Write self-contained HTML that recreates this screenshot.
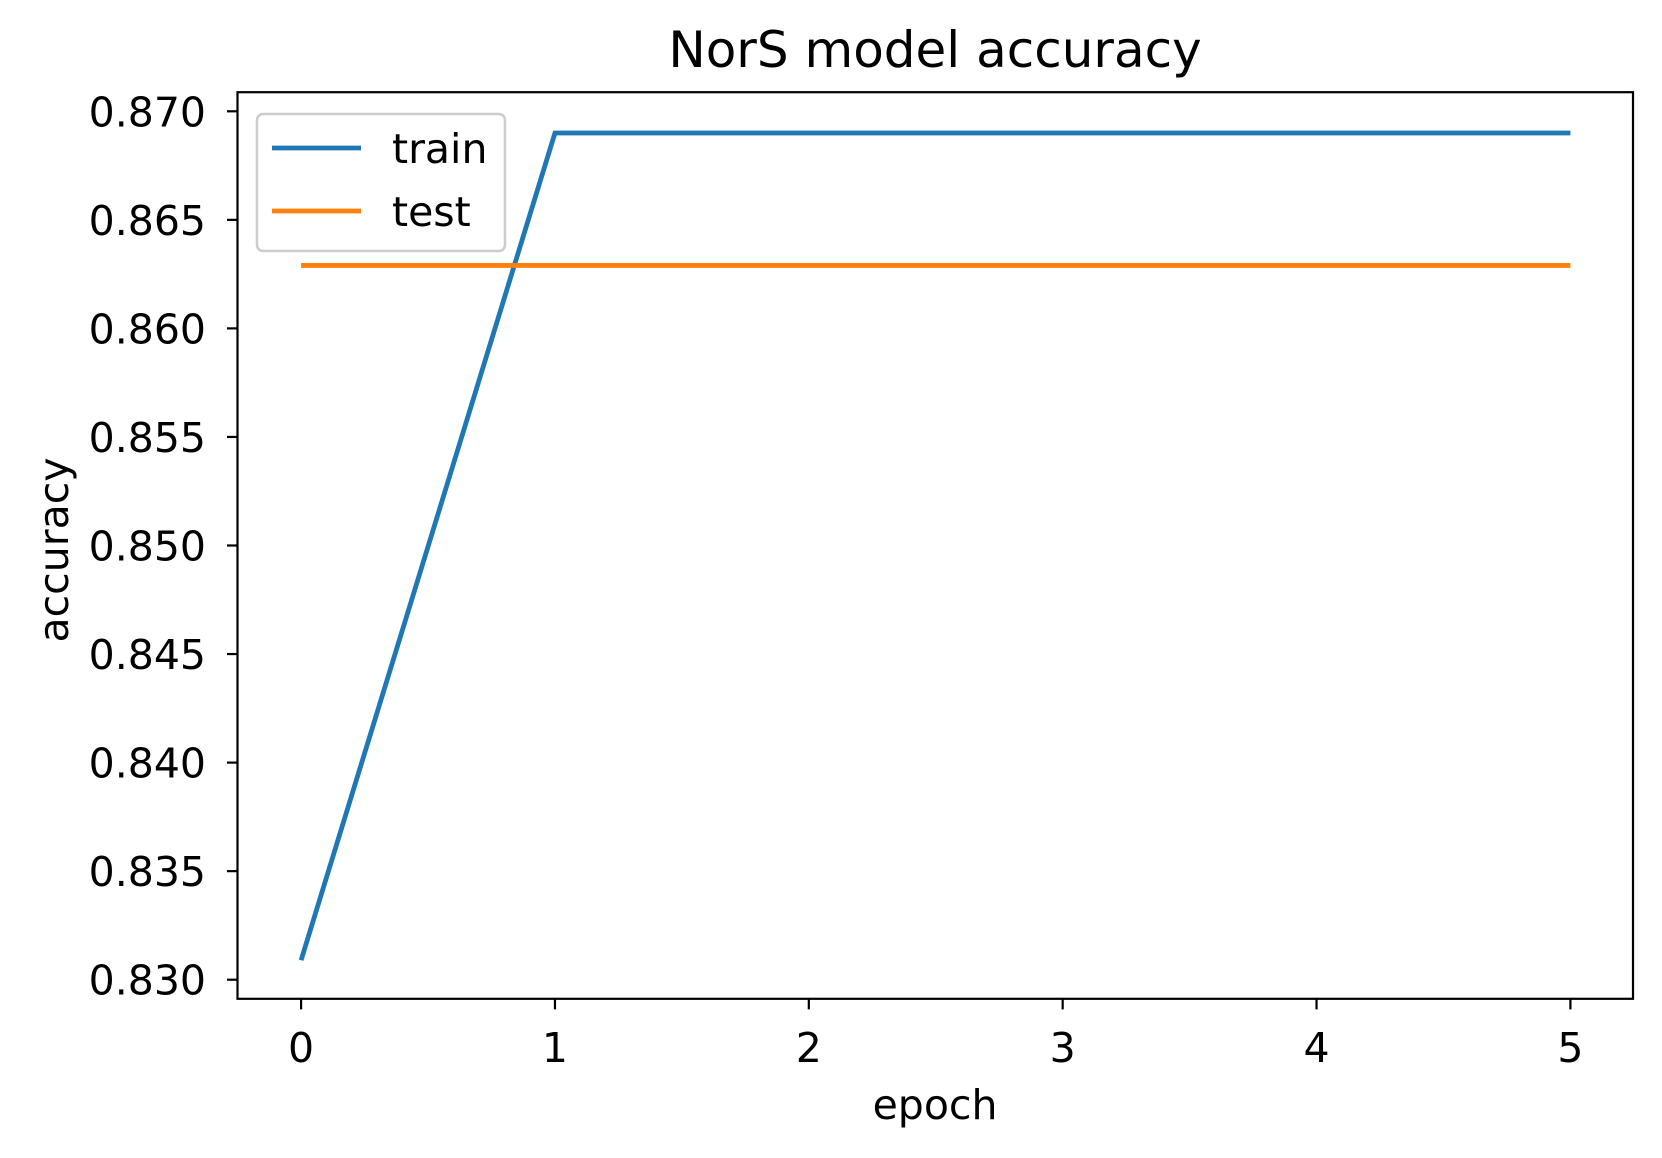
<!DOCTYPE html>
<html><head><meta charset="utf-8"><style>
html,body{margin:0;padding:0;background:#fff;}
svg{display:block;font-family:"DejaVu Sans","Liberation Sans",sans-serif;}
</style></head><body>
<svg id="chart" width="1662" height="1158" viewBox="0 0 1662 1158">
<rect width="1662" height="1158" fill="#fff"/>
<text x="935" y="67" font-size="50" text-anchor="middle">NorS model accuracy</text>
<g id="ticks"></g>
<g id="series"></g>
<rect x="237.5" y="92.2" width="1395.5" height="906.6" fill="none" stroke="#000" stroke-width="2.2"/>
<text x="935" y="1119" font-size="41" text-anchor="middle">epoch</text>
<text transform="translate(68,550) rotate(-90)" font-size="41" text-anchor="middle">accuracy</text>
<g>
<rect x="257" y="114" width="248" height="137" rx="6" fill="#fff" fill-opacity="0.8" stroke="#ccc" stroke-width="2.5"/>
<line x1="272" y1="148" x2="361" y2="148" stroke="#1f77b4" stroke-width="4.8"/>
<text x="392" y="163" font-size="41">train</text>
<line x1="272" y1="211" x2="361" y2="211" stroke="#ff7f0e" stroke-width="4.8"/>
<text x="392" y="226" font-size="41">test</text>
</g>
</svg>
<script>
const epochs = [0, 1, 2, 3, 4, 5];
const trainAcc = [0.8309, 0.8690, 0.8690, 0.8690, 0.8690, 0.8690];
const testAcc = [0.8629, 0.8629, 0.8629, 0.8629, 0.8629, 0.8629];
const yTicks = [0.830, 0.835, 0.840, 0.845, 0.850, 0.855, 0.860, 0.865, 0.870];
const yTickLabels = ["0.830","0.835","0.840","0.845","0.850","0.855","0.860","0.865","0.870"];
const xTicks = [0, 1, 2, 3, 4, 5];

const NS = "http://www.w3.org/2000/svg";
function xS(v){ return 301.1 + (v - 0) * (1570.4 - 301.1) / 5; }
function yS(v){ return 979.7 - (v - 0.830) * (979.7 - 111.3) / 0.040; }
const tg = document.getElementById('ticks');
yTicks.forEach((t,i)=>{
  const y = yS(t);
  const l = document.createElementNS(NS,'line');
  l.setAttribute('x1',227); l.setAttribute('x2',237.5); l.setAttribute('y1',y); l.setAttribute('y2',y);
  l.setAttribute('stroke','#000'); l.setAttribute('stroke-width',2.2);
  
  
  tg.appendChild(l);
  const tx = document.createElementNS(NS,'text');
  tx.setAttribute('x',206); tx.setAttribute('y',y+15); tx.setAttribute('font-size',41); tx.setAttribute('text-anchor','end');
  tx.textContent = yTickLabels[i];
  
  
  tg.appendChild(tx);
});
xTicks.forEach(t=>{
  const x = xS(t);
  const l = document.createElementNS(NS,'line');
  l.setAttribute('x1',x); l.setAttribute('x2',x); l.setAttribute('y1',998.8); l.setAttribute('y2',1009.4);
  l.setAttribute('stroke','#000'); l.setAttribute('stroke-width',2.2);
  
  
  tg.appendChild(l);
  const tx = document.createElementNS(NS,'text');
  tx.setAttribute('x',x); tx.setAttribute('y',1062); tx.setAttribute('font-size',41); tx.setAttribute('text-anchor','middle');
  tx.textContent = String(t);
  
  
  tg.appendChild(tx);
});
const sg = document.getElementById('series');
function drawLine(vals,color,name){
  const p = document.createElementNS(NS,'polyline');
  p.setAttribute('points', vals.map((v,i)=>xS(epochs[i])+','+yS(v)).join(' '));
  p.setAttribute('fill','none'); p.setAttribute('stroke',color); p.setAttribute('stroke-width',4.8);
  
  
  sg.appendChild(p);
}
drawLine(trainAcc,'#1f77b4','train-line');
drawLine(testAcc,'#ff7f0e','test-line');
</script>
</body></html>
